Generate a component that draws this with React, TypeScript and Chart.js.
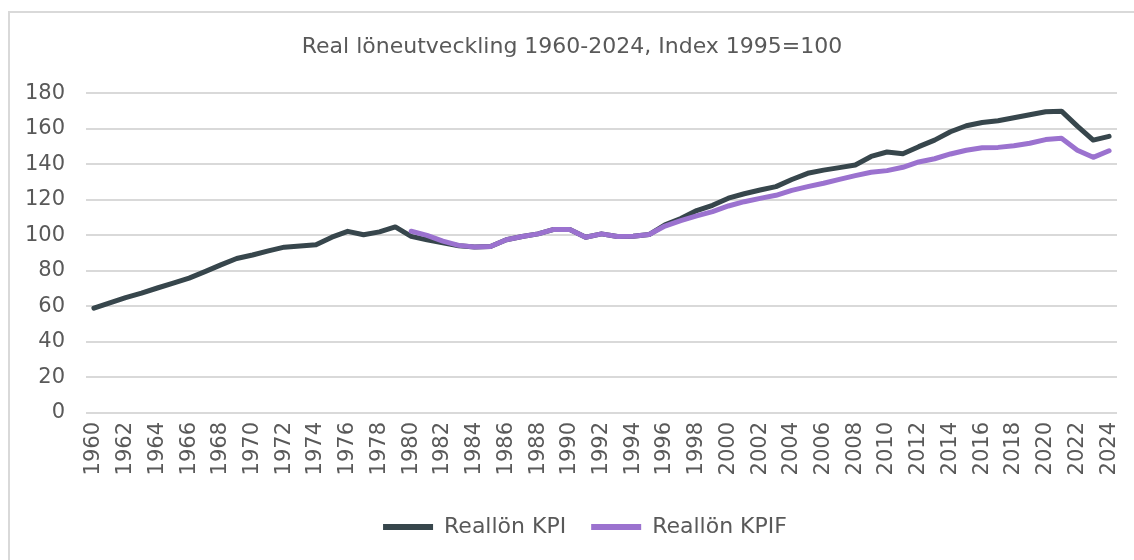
import React, { useEffect, useRef } from "react";
import { Chart, registerables } from "chart.js";

Chart.register(...registerables);

const years: string[] = [];
for (let y = 1960; y <= 2024; y++) years.push(String(y));

const titleText = "Real löneutveckling 1960-2024, Index 1995=100";
const seriesNames = ["Reallön KPI", "Reallön KPIF"];

const kpi: number[] = [
  59, 62, 65, 67.5, 70.4, 73.2, 76, 79.6, 83.4, 87,
  89, 91.3, 93.4, 94, 94.7, 99, 102.3, 100.4, 102, 104.8,
  99.5, 97.5, 95.8, 94.2, 93.5, 93.8, 97.6, 99.4, 100.9, 103.4,
  103.4, 99, 100.9, 99.4, 99.6, 100.5, 106, 109.5, 114, 117,
  121, 123.5, 125.6, 127.5, 131.5, 135, 136.8, 138.2, 139.7, 144.5,
  147, 146, 150, 153.7, 158.4, 161.8, 163.6, 164.6, 166.3, 168,
  169.7, 170, 161.6, 153.7, 155.8,
];

const kpif: (number | null)[] = [
  null, null, null, null, null, null, null, null, null, null,
  null, null, null, null, null, null, null, null, null, null,
  102.4, 100, 96.8, 94.4, 93.5, 93.8, 97.6, 99.4, 100.9, 103.4,
  103.4, 99, 100.9, 99.4, 99.6, 100.5, 105.3, 108.4, 111, 113.4,
  116.6, 119, 120.9, 122.6, 125.4, 127.5, 129.4, 131.6, 133.7, 135.6,
  136.5, 138.4, 141.4, 143.2, 145.9, 148, 149.4, 149.6, 150.5, 151.9,
  154, 154.7, 148, 144, 147.7,
];

const colors = ["#37464c", "#9b72cf"];
const FONT = "'DejaVu Sans', Verdana, sans-serif";
const TEXT = "#595959";

const legendShift = {
  id: "legendShift",
  afterLayout(chart: any) {
    if (chart.legend) chart.legend.left += 26;
  },
};

export default function App() {
  const ref = useRef<HTMLCanvasElement | null>(null);

  useEffect(() => {
    if (!ref.current) return;
    const chart = new Chart(ref.current, {
      type: "line",
      data: {
        labels: years,
        datasets: [
          {
            label: seriesNames[0],
            data: kpi,
            borderColor: colors[0],
            backgroundColor: colors[0],
            borderWidth: 5,
            pointRadius: 0,
            tension: 0,
            borderJoinStyle: "round",
            borderCapStyle: "round",
            order: 1,
          },
          {
            label: seriesNames[1],
            data: kpif,
            borderColor: colors[1],
            backgroundColor: colors[1],
            borderWidth: 5,
            pointRadius: 0,
            tension: 0,
            borderJoinStyle: "round",
            borderCapStyle: "round",
            order: 0,
          },
        ],
      },
      plugins: [legendShift],
      options: {
        responsive: false,
        animation: false,
        layout: { padding: { left: 17, right: 17, top: 0, bottom: 12 } },
        plugins: {
          tooltip: { enabled: false },
          title: {
            display: true,
            text: titleText,
            color: TEXT,
            font: { family: FONT, size: 22, weight: "normal" },
            padding: { top: 21, bottom: 33 },
          },
          legend: {
            position: "bottom",
            labels: {
              color: TEXT,
              font: { family: FONT, size: 22 },
              boxWidth: 50,
              boxHeight: 6,
              padding: 25,
              useBorderRadius: true,
              borderRadius: 3,
              generateLabels: () =>
                seriesNames.map((name, i) => ({
                  text: name,
                  fillStyle: colors[i],
                  strokeStyle: colors[i],
                  lineWidth: 0,
                  fontColor: TEXT,
                  datasetIndex: i,
                  hidden: false,
                })),
            },
          },
        },
        scales: {
          x: {
            offset: true,
            grid: { display: false, drawTicks: false, offset: true },
            border: { display: false },
            ticks: {
              autoSkip: false,
              minRotation: 90,
              maxRotation: 90,
              padding: 9,
              color: TEXT,
              font: { family: FONT, size: 21 },
              callback: (_v: any, i: number) => (i % 2 === 0 ? years[i] : ""),
            },
            afterFit: (scale: any) => {
              scale.height = 78;
              scale.paddingRight = 0;
              scale.paddingLeft = 0;
            },
          },
          y: {
            min: 0,
            max: 180,
            grid: { color: "#d9d9d9", lineWidth: 2, drawTicks: false },
            border: { display: false },
            ticks: {
              stepSize: 20,
              padding: 21,
              color: TEXT,
              font: { family: FONT, size: 21 },
            },
            afterFit: (scale: any) => {
              scale.width = 59;
            },
          },
        },
      },
    });
    return () => chart.destroy();
  }, []);

  return (
    <div
      style={{
        position: "absolute",
        left: 8,
        top: 11,
        width: 1126,
        height: 549,
        borderLeft: "2px solid #d9d9d9",
        borderTop: "2px solid #d9d9d9",
        boxSizing: "border-box",
        background: "#ffffff",
      }}
    >
      <canvas ref={ref} width={1124} height={547} style={{ display: "block" }} />
    </div>
  );
}
